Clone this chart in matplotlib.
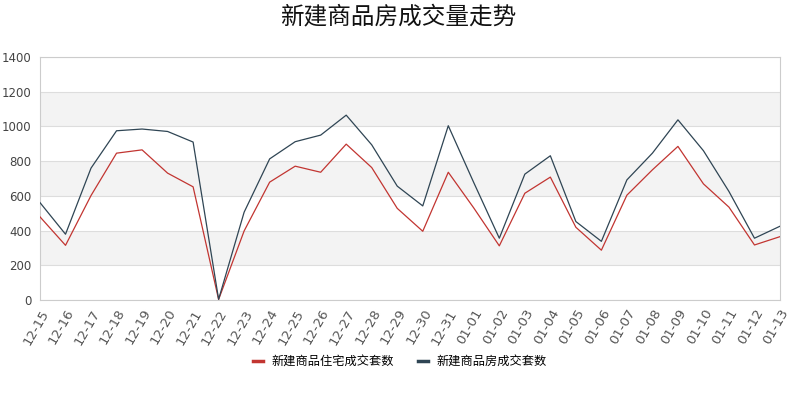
import numpy as np
import matplotlib.pyplot as plt
from matplotlib.lines import Line2D

plt.rcParams['font.family'] = ['Noto Sans CJK SC', 'DejaVu Sans']

# Даты и значения
dates = ['12-15', '12-16', '12-17', '12-18', '12-19', '12-20', '12-21', '12-22',
         '12-23', '12-24', '12-25', '12-26', '12-27', '12-28', '12-29', '12-30',
         '12-31', '01-01', '01-02', '01-03', '01-04', '01-05', '01-06', '01-07',
         '01-08', '01-09', '01-10', '01-11', '01-12', '01-13']
residential = [479, 315, 602, 846, 865, 731, 652, 3, 398, 679, 771, 736, 898, 763,
               528, 396, 736, 530, 312, 615, 708, 419, 287, 604, 750, 885, 669, 535,
               317, 365]
total = [561, 379, 760, 975, 985, 971, 910, 4, 506, 813, 912, 950, 1065, 894,
         656, 542, 1004, 676, 356, 725, 831, 452, 338, 692, 846, 1038, 860, 625,
         356, 425]
series_names = ['新建商品住宅成交套数', '新建商品房成交套数']
colors = ['#c23531', '#2f4554']

fig = plt.figure(figsize=(8, 4), dpi=100)
ax = fig.add_axes([0.05, 0.25, 0.925, 0.6075])

x = np.arange(len(dates))
ax.set_xlim(0, len(dates) - 1)
ax.set_ylim(0, 1400)

# Полосы фона
for lo in [200, 600, 1000]:
    ax.axhspan(lo, lo + 200, color='#f3f3f3', zorder=0, lw=0)
ax.set_yticks(np.arange(0, 1401, 200))
ax.grid(axis='y', color='#dddddd', linewidth=0.8, zorder=1)

ax.plot(x, residential, color=colors[0], linewidth=0.9, zorder=3)
ax.plot(x, total, color=colors[1], linewidth=0.9, zorder=3)

for s in ax.spines.values():
    s.set_color('#cccccc')
    s.set_linewidth(0.8)

ax.set_xticks(x)
ax.set_xticklabels(dates, rotation=60, ha='right', rotation_mode='anchor',
                   fontsize=9.5, color='#555555', family='DejaVu Sans')
ax.tick_params(axis='x', length=0, pad=5)
ax.tick_params(axis='y', length=0, labelsize=8.5, labelcolor='#444444', pad=6)
for lbl in ax.get_yticklabels():
    lbl.set_family('DejaVu Sans')

fig.text(0.498, 0.958, '新建商品房成交量走势', ha='center', va='center',
         fontsize=17, color='#111111')

handles = [Line2D([0], [0], color=c, linewidth=2.5) for c in colors]
fig.legend(handles, series_names, loc='center', bbox_to_anchor=(0.5, 0.095),
           ncol=2, frameon=False, fontsize=8.8, handlelength=0.8,
           columnspacing=2.0, handletextpad=0.7)

plt.savefig('out.png', dpi=100)
plt.close()
